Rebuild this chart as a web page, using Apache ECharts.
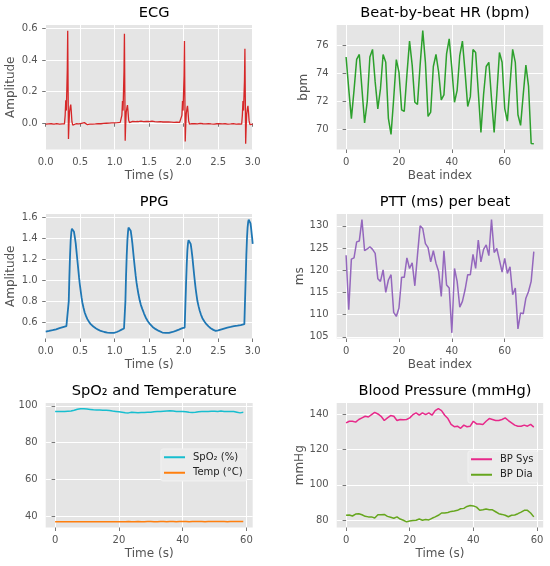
<!DOCTYPE html>
<html lang="en">
<head>
    <meta charset="UTF-8">
    <title>Vitals</title>
    <style>
        body{ margin:0; background:#fff; }
        #main{ width:550px; height:566px; }
    </style>
    <script type="text/javascript" src="https://cdn.jsdelivr.net/npm/echarts@6.0.0/dist/echarts.min.js"></script>
</head>
<body>
<div id="main"></div>
</body>
<script>
    // ---- data ----
    let ecgT=[0,.02,.04,.06,.08,.10,.12,.14,.16,.18,.20,.22,.24,.26,
        .272,.282,.291,.299,.306,.313,.319,.325,.330,.336,.345,.356,.363,.370,.380,.392,.400,
        .42,.44,.46,.48,.50,.52,.54,.56,.58,.60,.62,.64,.66,.68,.70,.72,.74,.76,.78,.80,.82,.84,.86,.88,.90,.92,.94,.96,.98,1.00,1.02,1.04,1.06,1.08,
        1.094,1.104,1.113,1.121,1.128,1.135,1.141,1.147,1.152,1.158,1.167,1.178,1.185,1.192,1.202,1.214,1.222,
        1.24,1.26,1.28,1.30,1.32,1.34,1.36,1.38,1.40,1.42,1.44,1.46,1.48,1.50,1.52,1.54,1.56,1.58,1.60,1.62,1.64,1.66,1.68,1.70,1.72,1.74,1.76,1.78,1.80,1.82,1.84,1.86,1.88,1.90,1.92,1.94,1.96,
        1.964,1.974,1.983,1.991,1.998,2.005,2.011,2.017,2.022,2.028,2.037,2.048,2.055,2.062,2.072,2.084,2.092,
        2.10,2.12,2.14,2.16,2.18,2.20,2.22,2.24,2.26,2.28,2.30,2.32,2.34,2.36,2.38,2.40,2.42,2.44,2.46,2.48,2.50,2.52,2.54,2.56,2.58,2.60,2.62,2.64,2.66,2.68,2.70,2.72,2.74,2.76,2.78,2.80,2.82,
        2.840,2.850,2.859,2.867,2.874,2.881,2.887,2.893,2.898,2.904,2.913,2.924,2.931,2.938,2.948,2.960,2.968,
        2.98,3.00];
    let ecgV=[-.006,-.012,-.004,-.010,-.003,-.011,-.005,-.009,-.002,-.010,-.006,-.013,-.004,-.008,
        -.004,.05,.145,.08,.07,.34,.585,.20,-.10,-.02,.07,.105,.118,.08,.01,-.012,-.006,
        -.008,-.003,-.010,-.004,-.007,0,-.006,.004,-.003,-.008,-.002,-.006,.001,-.005,.002,-.004,.003,-.002,.004,-.003,.002,-.001,.005,0,.006,.001,.007,.002,.008,.003,.009,.004,.010,.006,
        .008,.05,.14,.08,.07,.33,.565,.19,-.11,-.02,.07,.10,.115,.08,.02,.004,.010,
        .006,.012,.005,.010,.004,.011,.006,.013,.007,.010,.004,.012,.006,.011,.005,.014,.007,.010,.004,.009,.003,.010,.005,.008,.002,.009,.004,.008,.002,.007,.001,.006,.002,.007,.001,.005,.002,
        .003,.05,.14,.08,.07,.30,.52,.17,-.115,-.03,.06,.095,.11,.075,.015,-.006,-.002,
        -.008,-.002,-.009,-.003,-.010,-.004,-.008,-.001,-.007,-.003,-.010,-.004,-.009,-.002,-.008,-.004,-.011,-.005,-.009,-.003,-.008,-.002,-.010,-.004,-.008,-.003,-.009,-.005,-.011,-.004,-.008,-.002,-.009,-.005,-.010,-.004,-.008,
        -.006,.05,.14,.08,.07,.27,.47,.15,-.13,-.04,.06,.095,.11,.075,.015,-.008,-.004,
        -.010,-.006];

    let ppgT=[0,.05,.10,.15,.20,.25,.30,.324,
        .334,.343,.352,.362,.372,.380,.388,.398,.41,.422,.435,.447,.459,.471,.483,.495,.507,.519,.531,.548,.565,.585,.604,.63,.652,.69,.725,.76,.797,.85,.894,.94,.99,1.03,1.063,1.10,1.135,1.145,
        1.155,1.164,1.174,1.184,1.193,1.200,1.208,1.218,1.232,1.244,1.256,1.268,1.28,1.292,1.304,1.316,1.329,1.345,1.362,1.38,1.401,1.425,1.449,1.48,1.512,1.55,1.594,1.64,1.691,1.74,1.787,1.84,1.884,1.93,1.981,2.014,
        2.024,2.034,2.044,2.053,2.062,2.07,2.077,2.088,2.101,2.113,2.126,2.138,2.15,2.162,2.174,2.186,2.198,2.215,2.232,2.25,2.271,2.30,2.329,2.36,2.391,2.43,2.464,2.50,2.536,2.585,2.633,2.68,2.729,2.78,2.826,2.879,
        2.889,2.899,2.908,2.918,2.926,2.934,2.942,2.952,2.960,2.968,2.976,2.984,2.992,3.00];
    let ppgV=[.514,.52,.527,.535,.546,.556,.566,.575,
        .80,1.03,1.22,1.38,1.46,1.49,1.50,1.49,1.46,1.41,1.35,1.27,1.19,1.11,1.03,.96,.90,.84,.79,.74,.695,.66,.632,.605,.584,.562,.546,.532,.52,.51,.505,.502,.502,.51,.52,.532,.543,.546,
        .80,1.03,1.23,1.38,1.46,1.50,1.51,1.50,1.47,1.415,1.35,1.27,1.19,1.115,1.044,.98,.927,.865,.81,.765,.727,.685,.648,.612,.584,.558,.537,.52,.505,.502,.502,.51,.52,.532,.546,.552,
        .76,.965,1.15,1.28,1.35,1.38,1.384,1.375,1.345,1.29,1.22,1.14,1.06,.985,.917,.86,.806,.755,.711,.675,.641,.61,.584,.563,.546,.53,.52,.525,.533,.543,.552,.558,.565,.57,.575,.584,
        .81,1.03,1.24,1.41,1.50,1.55,1.575,1.575,1.56,1.54,1.50,1.45,1.40,1.346];

    let hrBpm=[75.18,72.9,70.78,72.8,75.01,75.36,72.9,70.47,72.0,75.18,
        75.72,73.4,71.48,72.9,75.36,74.8,70.8,69.65,72.2,74.99,
        74.1,71.41,71.29,73.9,76.31,74.6,71.95,71.8,74.6,77.06,
        74.8,70.94,71.25,74.5,75.36,74.1,72.12,72.47,75.4,76.47,
        74.35,71.95,72.8,75.3,76.31,74.1,71.65,72.35,75.72,75.5,
        72.7,69.8,72.5,74.5,74.8,72.2,69.8,72.5,75.5,74.8,
        71.5,70.6,73.2,75.72,74.8,71.06,70.3,72.5,74.6,73.1,
        69.0,68.98];

    let pttMs=[123.4,111.1,122.5,122.8,126.4,126.6,131.4,124.4,124.8,125.3,
        124.7,123.8,118.1,117.5,120.1,115.0,117.8,119.0,110.5,109.6,
        111.5,118.4,118.4,122.8,120.4,121.7,116.5,123.4,130.0,129.4,
        126.0,125.1,121.9,124.4,121.6,119.7,114.1,124.4,116.7,116.0,
        105.9,120.4,117.5,111.7,113.0,115.6,119.0,119.0,123.6,120.4,
        126.8,121.9,124.7,125.7,123.3,131.4,124.0,124.9,122.3,119.6,
        122.7,119.3,120.8,114.5,116.0,106.8,110.4,110.2,113.7,115.2,
        117.5,124.2];

    let spo2=[96.9,96.9,97.0,97.0,97.1,97.2,97.6,98.2,98.5,98.4,
        98.3,98.1,97.9,97.8,97.8,97.7,97.6,97.5,97.2,97.0,
        96.8,96.6,96.3,96.2,96.5,96.4,96.3,96.4,96.4,96.5,
        96.6,96.8,96.9,97.0,97.1,97.2,97.3,97.2,97.0,96.9,
        97.0,96.8,96.5,96.4,96.5,96.8,96.9,97.0,97.0,97.1,
        97.1,97.0,97.2,97.0,96.9,96.9,97.0,96.6,96.2,96.5];
    let tempC=[36.9,36.9,36.9,37.0,36.9,36.9,37.0,37.0,36.9,37.0,
        37.0,36.9,37.0,37.0,37.0,36.9,37.0,37.0,37.0,37.0,
        37.0,37.0,37.0,37.1,37.0,37.0,37.1,37.0,37.0,37.1,
        37.1,37.0,37.0,37.1,37.1,37.0,37.1,37.1,37.0,37.1,
        37.1,37.1,37.0,37.1,37.1,37.1,37.1,37.0,37.1,37.1,
        37.1,37.1,37.1,37.1,37.0,37.1,37.1,37.1,37.1,37.1];

    let bpSys=[135.0,135.9,135.9,135.4,136.9,137.8,138.7,138.3,139.6,140.9,
        140.0,138.7,136.3,137.8,139.1,138.7,136.3,136.9,136.7,136.9,
        137.8,139.6,140.6,139.3,140.6,139.6,140.6,139.3,141.9,143.0,
        141.9,139.3,137.4,134.1,132.8,133.1,131.9,133.7,132.8,133.1,
        135.9,134.4,134.4,134.1,135.9,137.4,136.9,136.3,136.3,136.9,
        137.8,136.3,135.0,133.7,133.1,133.1,133.7,133.1,134.1,132.6];
    let bpDia=[82.8,83.0,82.4,83.5,83.7,83.1,82.2,81.9,81.9,81.3,
        83.1,83.1,83.3,82.2,81.7,81.1,81.9,80.7,80.0,79.1,
        79.6,79.8,80.0,80.7,80.0,80.4,80.2,81.1,81.9,82.8,
        84.1,84.1,84.4,85.0,85.2,85.6,86.5,86.7,87.8,88.3,
        88.1,87.4,85.6,85.9,86.3,85.9,85.9,84.8,83.7,83.3,
        82.8,82.0,82.8,83.0,83.7,84.6,85.6,85.6,84.1,81.9];

    let ecgTicksX=[0,0.5,1,1.5,2,2.5,3];
    let ecgTicksY=[0,0.2,0.4,0.6];
    let ppgTicksY=[0.6,0.8,1.0,1.2,1.4,1.6];
    let beatTicksX=[0,20,40,60];
    let hrTicksY=[70,72,74,76];
    let pttTicksY=[105,110,115,120,125,130];
    let secTicksX=[0,20,40,60];
    let spoTicksY=[40,60,80,100];
    let bpTicksY=[80,100,120,140];

    // ---- layout ----
    let colLeft=[45.7,336.7], colWidth=[207,206.5];
    let rowTop=[25,214,403], rowH=124.5;
    let font='DejaVu Sans';

    function idx(arr){ return arr.map((v,i)=>[i,v]); }
    function zip(xs,ys){ return xs.map((x,i)=>[x,ys[i]]); }
    function pad(arrs){
        let lo=Math.min(...arrs.map(a=>Math.min(...a)));
        let hi=Math.max(...arrs.map(a=>Math.max(...a)));
        let m=(hi-lo)*0.05;
        return [lo-m,hi+m];
    }

    let panels=[
        {title:'ECG',row:0,col:0,xName:'Time (s)',yName:'Amplitude',yGap:29,
            xr:[0,3],yr:pad([ecgV]),xt:ecgTicksX,yt:ecgTicksY,xf:1,yf:1,
            series:[{name:'ECG',data:zip(ecgT,ecgV),color:'#d62728',w:1.3}]},
        {title:'Beat-by-beat HR (bpm)',row:0,col:1,xName:'Beat index',yName:'bpm',yGap:27,
            xr:pad([[0,hrBpm.length-1]]),yr:pad([hrBpm]),xt:beatTicksX,yt:hrTicksY,xf:0,yf:0,
            series:[{name:'HR',data:idx(hrBpm),color:'#2ca02c',w:1.5}]},
        {title:'PPG',row:1,col:0,xName:'Time (s)',yName:'Amplitude',yGap:29,
            xr:[0,3],yr:pad([ppgV]),xt:ecgTicksX,yt:ppgTicksY,xf:1,yf:1,
            series:[{name:'PPG',data:zip(ppgT,ppgV),color:'#1f77b4',w:1.8}]},
        {title:'PTT (ms) per beat',row:1,col:1,xName:'Beat index',yName:'ms',yGap:30,
            xr:pad([[0,pttMs.length-1]]),yr:pad([pttMs]),xt:beatTicksX,yt:pttTicksY,xf:0,yf:0,
            series:[{name:'PTT',data:idx(pttMs),color:'#9467bd',w:1.5}]},
        {title:'SpO\u2082 and Temperature',row:2,col:0,xName:'Time (s)',yName:'',yGap:30,
            xr:pad([[0,spo2.length-1]]),yr:pad([spo2,tempC]),xt:secTicksX,yt:spoTicksY,xf:0,yf:0,
            legend:{left:161,top:449},
            series:[{name:'SpO\u2082 (%)',data:idx(spo2),color:'#17becf',w:1.5},
                {name:'Temp (\u00b0C)',data:idx(tempC),color:'#ff7f0e',w:1.5}]},
        {title:'Blood Pressure (mmHg)',row:2,col:1,xName:'Time (s)',yName:'mmHg',yGap:30,
            xr:pad([[0,bpSys.length-1]]),yr:pad([bpSys,bpDia]),xt:secTicksX,yt:bpTicksY,xf:0,yf:0,
            legend:{left:468,top:451},
            series:[{name:'BP Sys',data:idx(bpSys),color:'#e7298a',w:1.5},
                {name:'BP Dia',data:idx(bpDia),color:'#66a61e',w:1.5}]}
    ];

    let grids=[],xAxes=[],yAxes=[],titles=[],legends=[],series=[];
    panels.forEach((p,k)=>{
        let left=colLeft[p.col], top=rowTop[p.row];
        grids.push({left:left,top:top,width:colWidth[p.col],height:rowH,show:true,
            backgroundColor:'#e5e5e5',borderWidth:0});
        titles.push({text:p.title,left:left+colWidth[p.col]/2,top:top-24,textAlign:'center',
            textStyle:{fontFamily:font,fontSize:14.6,fontWeight:'normal',color:'#000'}});
        let axisCommon=(ticks,dec)=>({
            axisLine:{show:false},
            axisTick:{show:true,length:3.5,customValues:ticks,lineStyle:{color:'#555',width:0.8}},
            axisLabel:{customValues:ticks,color:'#555',fontFamily:font,fontSize:10,margin:8,
                formatter:v=>Number(v).toFixed(dec)},
            splitLine:{show:true,lineStyle:{color:'#fff',width:1}}
        });
        xAxes.push(Object.assign({type:'value',gridIndex:k,min:p.xr[0],max:p.xr[1],
            name:p.xName,nameLocation:'middle',nameGap:20,
            nameTextStyle:{color:'#555',fontFamily:font,fontSize:12}},axisCommon(p.xt,p.xf)));
        yAxes.push(Object.assign({type:'value',gridIndex:k,min:p.yr[0],max:p.yr[1],
            name:p.yName,nameLocation:'middle',nameGap:p.yGap,
            nameTextStyle:{color:'#555',fontFamily:font,fontSize:12}},axisCommon(p.yt,p.yf)));
        p.series.forEach(s=>{
            series.push({type:'line',name:s.name,xAxisIndex:k,yAxisIndex:k,data:s.data,
                showSymbol:false,symbol:'none',
                lineStyle:{color:s.color,width:s.w},itemStyle:{color:s.color}});
        });
        if(p.legend){
            legends.push({orient:'vertical',left:p.legend.left,top:p.legend.top,
                data:p.series.map(s=>s.name),icon:'rect',itemWidth:21,itemHeight:2,itemGap:4,
                padding:[2.5,4,2.5,3],backgroundColor:'#ebebeb',borderColor:'#f2f2f2',borderWidth:1,borderRadius:2,
                textStyle:{fontFamily:font,fontSize:10,color:'#222',lineHeight:11.5,padding:[0,0,0,3]},
                selectedMode:false});
        }
    });

    let chart=echarts.init(document.getElementById('main'),null,{renderer:'canvas'});
    chart.setOption({
        animation:false,
        backgroundColor:'#fff',
        title:titles,
        legend:legends,
        grid:grids,
        xAxis:xAxes,
        yAxis:yAxes,
        series:series
    });
</script>
</html>
